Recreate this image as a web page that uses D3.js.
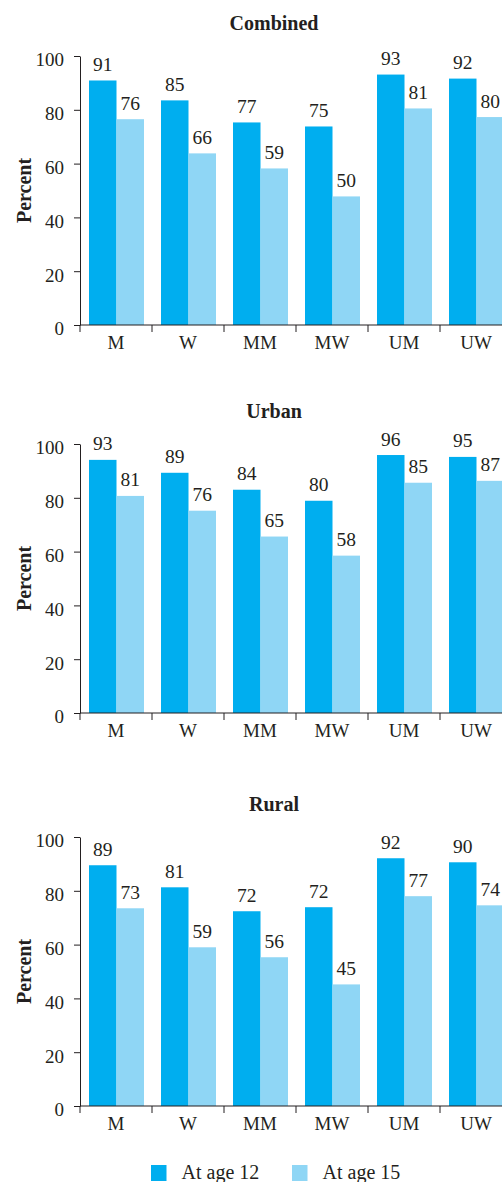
<!DOCTYPE html>
<html>
<head>
<meta charset="utf-8">
<script src="https://cdn.jsdelivr.net/npm/d3@7"></script>
<style>
  body { margin: 0; background: #fff; }
  svg text { font-family: "Liberation Serif", "DejaVu Serif", serif; }
  .axis path, .axis line { stroke: #231f20; stroke-width: 1; }
  .axis text { font-size: 19px; fill: #231f20; }
</style>
</head>
<body>
<div id="chart"></div>
<script>
const categories = ["M", "W", "MM", "MW", "UM", "UW"];
const seriesNames = ["At age 12", "At age 15"];
const panelTitles = ["Combined", "Urban", "Rural"];
const yTicks = [0, 20, 40, 60, 80, 100];

// bar heights
const combined12 = [90.9, 83.5, 75.3, 73.8, 93.1, 91.6];
const combined15 = [76.5, 63.8, 58.2, 47.8, 80.5, 77.3];
const urban12 = [94.1, 89.3, 83.0, 78.9, 95.9, 95.2];
const urban15 = [80.7, 75.2, 65.6, 58.5, 85.6, 86.3];
const rural12 = [89.5, 81.3, 72.4, 73.9, 92.1, 90.6];
const rural15 = [73.5, 59.0, 55.3, 45.2, 78.0, 74.6];

// numbers printed above the bars
const combinedLabels12 = [91, 85, 77, 75, 93, 92];
const combinedLabels15 = [76, 66, 59, 50, 81, 80];
const urbanLabels12 = [93, 89, 84, 80, 96, 95];
const urbanLabels15 = [81, 76, 65, 58, 85, 87];
const ruralLabels12 = [89, 81, 72, 72, 92, 90];
const ruralLabels15 = [73, 59, 56, 45, 77, 74];

const colors = ["#00aeef", "#8fd6f5"];

const panels = [
    { title: panelTitles[0], values: [combined12, combined15], labels: [combinedLabels12, combinedLabels15], top: 56 },
    { title: panelTitles[1], values: [urban12, urban15], labels: [urbanLabels12, urbanLabels15], top: 444 },
    { title: panelTitles[2], values: [rural12, rural15], labels: [ruralLabels12, ruralLabels15], top: 837 }
];

const width = 502, height = 1182;
const plotHeight = 269;
const left = 80;

const svg = d3.select("#chart").append("svg")
    .attr("width", width)
    .attr("height", height);

const x = d3.scaleBand()
    .domain(categories)
    .range([left, left + 72 * categories.length]);

const xInner = d3.scaleBand()
    .domain(seriesNames)
    .range([9, 64]);

const y = d3.scaleLinear()
    .domain([0, 100])
    .range([plotHeight, 0]);

panels.forEach(p => {
    const g = svg.append("g")
        .attr("transform", `translate(0,${p.top})`);

    g.append("text")
        .attr("x", 274)
        .attr("y", -26)
        .attr("text-anchor", "middle")
        .attr("font-weight", "bold")
        .attr("font-size", 20)
        .attr("fill", "#231f20")
        .text(p.title);

    g.append("text")
        .attr("transform", `translate(31,${plotHeight / 2}) rotate(-90)`)
        .attr("text-anchor", "middle")
        .attr("font-weight", "bold")
        .attr("font-size", 20)
        .attr("fill", "#231f20")
        .text("Percent");

    // bars
    seriesNames.forEach((s, si) => {
        g.append("g")
            .selectAll("rect")
            .data(categories)
            .join("rect")
            .attr("x", d => x(d) + xInner(s))
            .attr("width", xInner.bandwidth())
            .attr("y", (d, i) => y(p.values[si][i]))
            .attr("height", (d, i) => y(0) - y(p.values[si][i]))
            .attr("fill", colors[si]);

        g.append("g")
            .selectAll("text")
            .data(categories)
            .join("text")
            .attr("x", d => x(d) + xInner(s) + xInner.bandwidth() / 2)
            .attr("y", (d, i) => y(p.values[si][i]) - 9.5)
            .attr("text-anchor", "middle")
            .attr("font-size", 19.5)
            .attr("fill", "#231f20")
            .text((d, i) => p.labels[si][i]);
    });

    // y axis
    const yAxis = g.append("g")
        .attr("class", "axis")
        .attr("transform", `translate(${left},0)`)
        .call(d3.axisLeft(y).tickValues(yTicks).tickSize(6).tickSizeOuter(0).tickPadding(10));
    yAxis.attr("font-family", null).attr("font-size", null);
    yAxis.selectAll("text").attr("dy", "0.52em");

    // x axis with ticks on the band edges
    const xAxis = g.append("g")
        .attr("class", "axis")
        .attr("transform", `translate(0,${plotHeight})`);
    xAxis.append("line")
        .attr("x1", x.range()[0])
        .attr("x2", x.range()[1]);
    xAxis.selectAll(".tick-mark")
        .data(categories)
        .join("line")
        .attr("class", "tick-mark")
        .attr("x1", d => x(d))
        .attr("x2", d => x(d))
        .attr("y1", 0)
        .attr("y2", 7);
    xAxis.selectAll(".cat")
        .data(categories)
        .join("text")
        .attr("class", "cat")
        .attr("x", d => x(d) + x.bandwidth() / 2)
        .attr("y", 23.5)
        .attr("text-anchor", "middle")
        .text(d => d);
});

// legend
const legendX = [151, 292];
const legend = svg.append("g")
    .attr("transform", "translate(0,1165)");
seriesNames.forEach((s, i) => {
    legend.append("rect")
        .attr("x", legendX[i])
        .attr("y", 0)
        .attr("width", 15.5)
        .attr("height", 16)
        .attr("fill", colors[i]);
    legend.append("text")
        .attr("x", legendX[i] + 30.5)
        .attr("y", 14)
        .attr("font-size", 20)
        .attr("fill", "#231f20")
        .text(s);
});
</script>
</body>
</html>
